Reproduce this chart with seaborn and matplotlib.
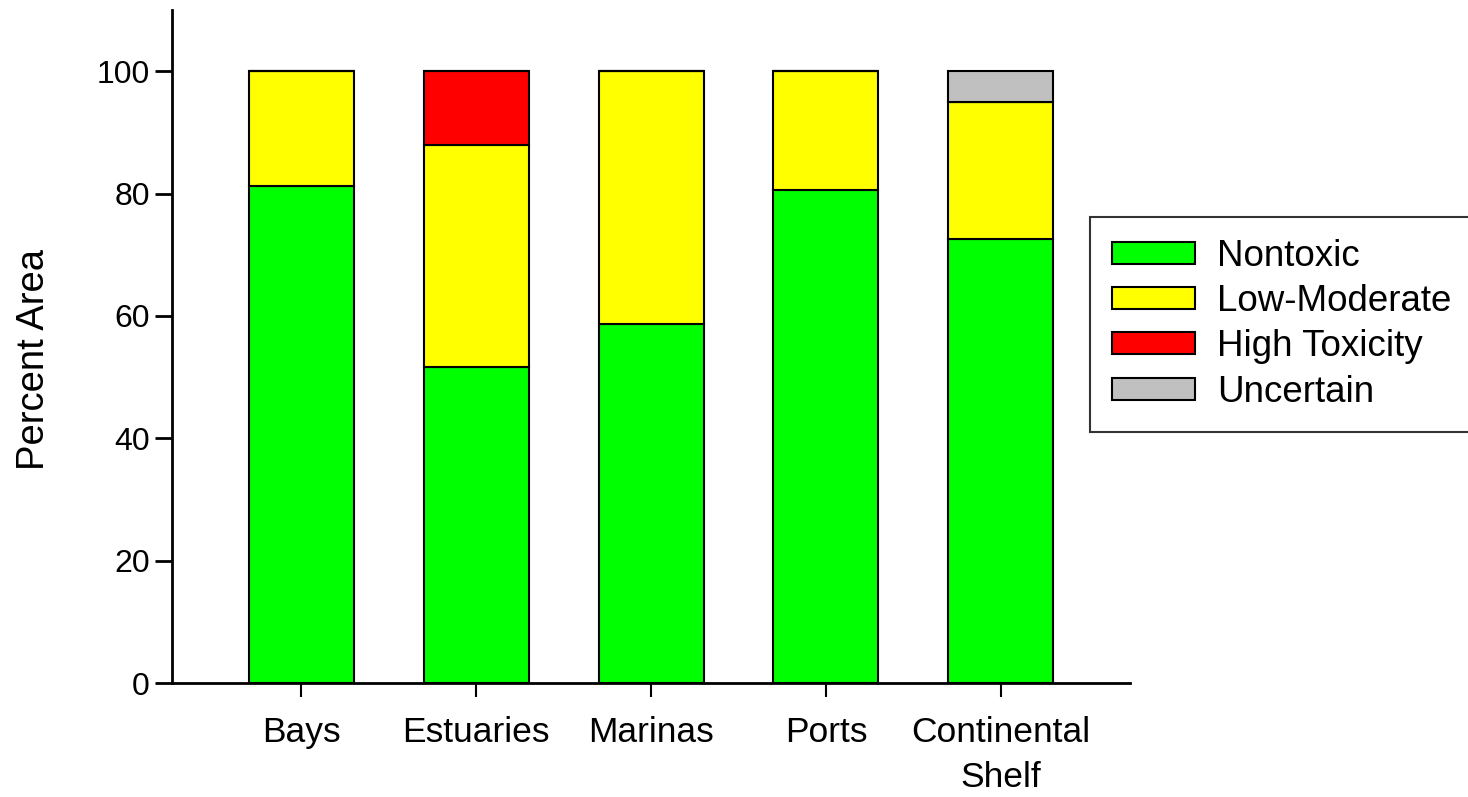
import matplotlib
matplotlib.use("Agg")
import matplotlib.pyplot as plt
import seaborn as sns
import numpy as np
from matplotlib.patches import Patch

categories = ["Bays", "Estuaries", "Marinas", "Ports", "Continental\nShelf"]
nontoxic = [81.3, 51.7, 58.6, 80.5, 72.5]
low_moderate = [18.7, 36.2, 41.4, 19.5, 22.4]
high_toxicity = [0.0, 12.1, 0.0, 0.0, 0.0]
uncertain = [0.0, 0.0, 0.0, 0.0, 5.1]
series_names = ["Nontoxic", "Low-Moderate", "High Toxicity", "Uncertain"]
series_colors = ["#00ff00", "#ffff00", "#ff0000", "#c0c0c0"]

sns.set_theme(style="ticks")
plt.rcParams['font.family'] = ['Liberation Sans', 'DejaVu Sans']

fig = plt.figure(figsize=(14.68, 7.97), dpi=100)
ax = fig.add_axes([0.1172, 0.143, 0.6526, 0.8445])

bottom = np.zeros(len(categories))
for vals, col in zip([nontoxic, low_moderate, high_toxicity, uncertain], series_colors):
    v = np.array(vals)
    sns.barplot(x=categories, y=v, bottom=bottom, color=col, width=0.6,
                edgecolor="black", linewidth=1.5, saturation=1, ax=ax)
    bottom = bottom + v

ax.set_xlim(-0.74, 4.74)
ax.set_ylim(0, 110)
ax.set_yticks([0, 20, 40, 60, 80, 100])
sns.despine(ax=ax)
for s in ["left", "bottom"]:
    ax.spines[s].set_linewidth(2)
    ax.spines[s].set_color("black")
ax.tick_params(axis="y", length=12, width=2, labelsize=23, pad=4, colors="black")
ax.tick_params(axis="x", length=10, width=1.5, labelsize=25.5, pad=14, colors="black")
for t in ax.get_xticklabels():
    t.set_linespacing(1.45)
ax.set_ylabel("Percent Area", fontsize=27.5, labelpad=29, color="black")
ax.yaxis.set_label_coords(-0.125, 0.48)
ax.set_xlabel("")

handles = [Patch(facecolor=c, edgecolor="black", linewidth=1.5) for c in series_colors]
leg = fig.legend(handles, series_names, loc="upper left", bbox_to_anchor=(0.7425, 0.728),
                 frameon=True, fancybox=False, edgecolor="black", fontsize=26.5,
                 handlelength=2.25, handleheight=0.54, labelspacing=0.28,
                 borderpad=0.6, handletextpad=0.6, borderaxespad=0)
leg.get_frame().set_linewidth(1.5)
for t in leg.get_texts():
    t.set_color("black")

fig.savefig("out.png", dpi=100)
